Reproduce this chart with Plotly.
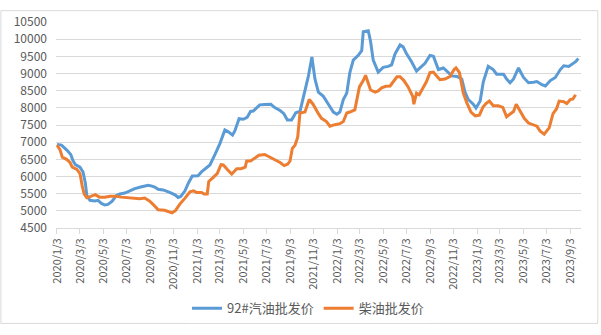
import plotly.graph_objects as go

# 92# gasoline wholesale price (yuan/ton)
gas_dates = [
    "2020-01-03", "2020-01-15", "2020-01-28", "2020-02-08", "2020-02-14", "2020-02-20",
    "2020-03-03", "2020-03-11", "2020-03-17", "2020-03-21", "2020-03-29", "2020-04-11",
    "2020-04-19", "2020-04-28", "2020-05-07", "2020-05-15", "2020-05-26", "2020-06-06",
    "2020-06-15", "2020-06-28", "2020-07-11", "2020-07-24", "2020-08-11", "2020-08-28",
    "2020-09-07", "2020-09-14", "2020-09-23", "2020-10-06", "2020-10-23", "2020-11-06",
    "2020-11-14", "2020-11-21", "2020-12-02", "2020-12-11", "2020-12-21", "2021-01-05",
    "2021-01-14", "2021-01-27", "2021-02-05", "2021-02-18", "2021-03-03", "2021-03-16",
    "2021-03-25", "2021-04-05", "2021-04-11", "2021-04-22", "2021-05-03", "2021-05-13",
    "2021-05-22", "2021-05-29", "2021-06-07", "2021-06-15", "2021-06-28", "2021-07-14",
    "2021-07-23", "2021-08-07", "2021-08-17", "2021-08-26", "2021-09-06", "2021-09-17",
    "2021-09-28", "2021-10-11", "2021-10-20", "2021-10-29", "2021-11-06", "2021-11-15",
    "2021-11-28", "2021-12-11", "2021-12-24", "2022-01-02", "2022-01-10", "2022-01-19",
    "2022-01-28", "2022-02-05", "2022-02-14", "2022-02-27", "2022-03-08", "2022-03-12",
    "2022-03-25", "2022-03-31", "2022-04-07", "2022-04-20", "2022-05-03", "2022-05-16",
    "2022-05-25", "2022-06-03", "2022-06-16", "2022-06-24", "2022-07-03", "2022-07-16",
    "2022-07-29", "2022-08-07", "2022-08-20", "2022-09-02", "2022-09-11", "2022-09-24",
    "2022-10-07", "2022-10-16", "2022-10-29", "2022-11-11", "2022-11-24", "2022-12-02",
    "2022-12-11", "2022-12-24", "2022-12-31", "2023-01-11", "2023-01-19", "2023-02-01",
    "2023-02-14", "2023-02-23", "2023-03-13", "2023-03-21", "2023-03-30", "2023-04-08",
    "2023-04-21", "2023-05-04", "2023-05-17", "2023-05-30", "2023-06-08", "2023-06-21",
    "2023-06-30", "2023-07-13", "2023-07-26", "2023-08-08", "2023-08-17", "2023-08-30",
    "2023-09-08", "2023-09-17", "2023-09-24",
]
gas_price = [
    6930, 6915, 6776, 6640, 6455, 6345,
    6270, 6130, 5813, 5445, 5307, 5290,
    5307, 5216, 5170, 5188, 5280, 5445,
    5490, 5518, 5582, 5647, 5703, 5747,
    5720, 5692, 5629, 5610, 5538, 5464,
    5390, 5418, 5582, 5813, 6014, 6023,
    6133, 6270, 6336, 6640, 6958, 7355,
    7300, 7206, 7327, 7685, 7666, 7720,
    7894, 7905, 7987, 8087, 8097, 8106,
    8015, 7922, 7830, 7647, 7647, 7858,
    7900, 8472, 8931, 9480, 8840, 8455,
    8335, 8106, 7877, 7812, 7877, 8243,
    8428, 9024, 9390, 9528, 9666, 10217,
    10244, 9941, 9390, 9042, 9179, 9207,
    9253, 9573, 9831, 9776, 9573, 9344,
    9069, 9161, 9298, 9528, 9500, 9115,
    9161, 9069, 8931, 8912, 8840, 8472,
    8243, 8106, 7996, 8197, 8748, 9207,
    9115, 8978, 8978, 8840, 8730, 8840,
    9161, 8885, 8730, 8748, 8766, 8675,
    8637, 8794, 8885, 9115, 9225, 9207,
    9280, 9344, 9435,
]

# Diesel wholesale price (yuan/ton)
diesel_dates = [
    "2020-01-03", "2020-01-11", "2020-01-17", "2020-01-28", "2020-02-06", "2020-02-12",
    "2020-02-24", "2020-03-03", "2020-03-09", "2020-03-14", "2020-03-21", "2020-04-02",
    "2020-04-12", "2020-04-23", "2020-05-07", "2020-05-20", "2020-06-06", "2020-06-19",
    "2020-07-07", "2020-07-24", "2020-08-06", "2020-08-19", "2020-09-01", "2020-09-13",
    "2020-09-23", "2020-10-10", "2020-10-23", "2020-10-29", "2020-11-07", "2020-11-18",
    "2020-12-02", "2020-12-15", "2020-12-24", "2021-01-01", "2021-01-14", "2021-01-21",
    "2021-01-29", "2021-02-02", "2021-02-13", "2021-02-24", "2021-03-06", "2021-03-12",
    "2021-03-23", "2021-04-03", "2021-04-16", "2021-04-27", "2021-05-08", "2021-05-12",
    "2021-05-22", "2021-06-02", "2021-06-13", "2021-06-28", "2021-07-11", "2021-07-24",
    "2021-08-07", "2021-08-18", "2021-08-27", "2021-09-02", "2021-09-08", "2021-09-15",
    "2021-09-22", "2021-09-28", "2021-10-11", "2021-10-22", "2021-11-01", "2021-11-15",
    "2021-11-23", "2021-12-06", "2021-12-15", "2021-12-28", "2022-01-10", "2022-01-19",
    "2022-01-28", "2022-02-05", "2022-02-18", "2022-03-02", "2022-03-12", "2022-03-18",
    "2022-03-25", "2022-03-31", "2022-04-12", "2022-04-20", "2022-04-29", "2022-05-10",
    "2022-05-21", "2022-05-30", "2022-06-08", "2022-06-16", "2022-06-26", "2022-07-07",
    "2022-07-19", "2022-07-22", "2022-07-29", "2022-08-05", "2022-08-16", "2022-08-24",
    "2022-09-02", "2022-09-11", "2022-09-19", "2022-09-28", "2022-10-11", "2022-10-24",
    "2022-11-04", "2022-11-09", "2022-11-18", "2022-11-28", "2022-12-07", "2022-12-18",
    "2022-12-29", "2023-01-09", "2023-01-18", "2023-01-26", "2023-02-04", "2023-02-14",
    "2023-02-27", "2023-03-11", "2023-03-21", "2023-03-31", "2023-04-08", "2023-04-15",
    "2023-04-25", "2023-05-06", "2023-05-17", "2023-05-30", "2023-06-08", "2023-06-16",
    "2023-06-27", "2023-07-10", "2023-07-20", "2023-07-29", "2023-08-05", "2023-08-17",
    "2023-08-25", "2023-09-03", "2023-09-10", "2023-09-17",
]
diesel_price = [
    6915, 6776, 6565, 6500, 6408, 6270,
    6207, 6087, 5720, 5490, 5380, 5427,
    5472, 5399, 5399, 5427, 5427, 5399,
    5380, 5371, 5353, 5371, 5280, 5152,
    5032, 5015, 4968, 4941, 5005, 5188,
    5371, 5555, 5582, 5537, 5537, 5491,
    5491, 5857, 5968, 6087, 6345, 6336,
    6198, 6069, 6225, 6225, 6270, 6454,
    6454, 6528, 6620, 6640, 6565, 6474,
    6408, 6317, 6363, 6454, 6821, 6913,
    7143, 7850, 7877, 8243, 8106, 7831,
    7694, 7602, 7465, 7510, 7538, 7602,
    7850, 7877, 7941, 8610, 8794, 8950,
    8703, 8519, 8455, 8491, 8582, 8628,
    8637, 8766, 8904, 8904, 8794, 8610,
    8335, 8106, 8428, 8381, 8610, 8766,
    9024, 9042, 8931, 8821, 8840, 8912,
    9115, 9161, 9024, 8428, 8152, 7877,
    7767, 7785, 8014, 8125, 8197, 8060,
    8060, 8014, 7740, 7831, 7894, 8106,
    7922, 7694, 7557, 7510, 7465, 7327,
    7233, 7418, 7831, 7968, 8197, 8180,
    8125, 8243, 8262, 8381,
]

# Category ticks every two months
tick_dates = [
    "2020-01-03", "2020-03-03", "2020-05-03", "2020-07-03", "2020-09-03", "2020-11-03",
    "2021-01-03", "2021-03-03", "2021-05-03", "2021-07-03", "2021-09-03", "2021-11-03",
    "2022-01-03", "2022-03-03", "2022-05-03", "2022-07-03", "2022-09-03", "2022-11-03",
    "2023-01-03", "2023-03-03", "2023-05-03", "2023-07-03", "2023-09-03",
]
tick_labels = [
    "2020/1/3", "2020/3/3", "2020/5/3", "2020/7/3", "2020/9/3", "2020/11/3",
    "2021/1/3", "2021/3/3", "2021/5/3", "2021/7/3", "2021/9/3", "2021/11/3",
    "2022/1/3", "2022/3/3", "2022/5/3", "2022/7/3", "2022/9/3", "2022/11/3",
    "2023/1/3", "2023/3/3", "2023/5/3", "2023/7/3", "2023/9/3",
]

FONT = "Noto Sans CJK SC"
GREY_TEXT = "#595959"
GRID = "#d9d9d9"

fig = go.Figure()
fig.add_trace(go.Scatter(
    x=gas_dates, y=gas_price, mode="lines", name="92#汽油批发价",
    line=dict(color="#5B9BD5", width=3, shape="linear"),
))
fig.add_trace(go.Scatter(
    x=diesel_dates, y=diesel_price, mode="lines", name="柴油批发价",
    line=dict(color="#ED7D31", width=3, shape="linear"),
))

fig.update_layout(
    width=601, height=335,
    margin=dict(l=56, r=20, t=13, b=104),
    paper_bgcolor="white", plot_bgcolor="white",
    font=dict(family=FONT, color=GREY_TEXT, size=11),
    showlegend=True,
    legend=dict(
        orientation="h", x=0.48, xanchor="center", y=-0.39, yanchor="middle",
        font=dict(family=FONT, size=13, color=GREY_TEXT),
        itemwidth=30, tracegroupgap=0,
    ),
    xaxis=dict(
        type="date",
        range=["2019-12-31 12:00", "2023-10-01"],
        tickmode="array", tickvals=tick_dates, ticktext=tick_labels,
        tickangle=-90, ticks="outside", ticklen=5, tickcolor=GRID,
        showgrid=False, showline=True, linecolor=GRID, linewidth=1,
        tickfont=dict(family=FONT, size=11, color=GREY_TEXT),
        zeroline=False,
    ),
    yaxis=dict(
        range=[4500, 10500], dtick=500, tick0=4500, tickformat="d",
        showgrid=True, gridcolor=GRID, gridwidth=1,
        showline=False, zeroline=False, ticks="",
        tickfont=dict(family=FONT, size=12, color=GREY_TEXT),
        ticklabelstandoff=8,
    ),
    shapes=[dict(
        type="rect", xref="paper", yref="paper",
        x0=-0.105, x1=1.032, y0=-0.463, y1=1.055,
        line=dict(color=GRID, width=1), fillcolor="rgba(0,0,0,0)", layer="below",
    )],
)

fig.write_html("out.html")
